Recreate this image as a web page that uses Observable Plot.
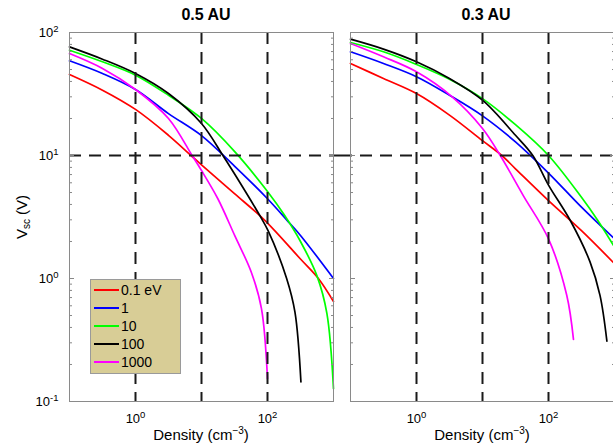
<!DOCTYPE html>
<html>
<head>
<meta charset="utf-8">
<script src="https://cdn.jsdelivr.net/npm/d3@7"></script>
<script src="https://cdn.jsdelivr.net/npm/@observablehq/plot@0.6"></script>
<style>
  html, body { margin: 0; padding: 0; background: #fff; overflow: hidden; }
  #wrap { position: relative; width: 613px; height: 447px; overflow: hidden; background: #fff;
          font-family: "Liberation Sans", Arial, Helvetica, sans-serif; color: #000; }
  .abs { position: absolute; white-space: nowrap; }
  .title { font-weight: bold; font-size: 16px; line-height: 16px; transform: translateX(-50%); }
  .xlab { font-size: 15px; line-height: 15px; transform: translateX(-50%); }
  .xlab sup { font-size: 10px; vertical-align: 6px; line-height: 0; }
  .ylab { font-size: 15px; line-height: 15px; transform: translate(-50%, -50%) rotate(-90deg); }
  .ylab sub { font-size: 10px; vertical-align: -3px; line-height: 0; }
  #legend { left: 90px; top: 279px; width: 89px; height: 93px; background: #d8cd96; border: 1px solid #9a9a9a; }
  .lrow { position: absolute; left: 3px; height: 18px; font-size: 14px; line-height: 18px; }
  .lrow .sw { position: absolute; left: 0; top: 8px; width: 25px; height: 2px; }
  .lrow .lt { position: absolute; left: 27px; top: 0; }
</style>
</head>
<body>
<div id="wrap"></div>
<script>
// ---------- data ----------
const energies = ["0.1 eV", "1", "10", "100", "1000"];
const colors = ["#ff0000", "#0000ff", "#00ff00", "#000000", "#ff00ff"];
const panels = ["0.5 AU", "0.3 AU"];
const gridDensity = [1, 10, 100];
const gridVoltage = [10];
const yTicks = [0.1, 1, 10, 100];
const xTicks = [1, 100];

// 0.5 AU : [density (cm^-3), Vsc (V)]
const au05_e0p1 = [[0.1,45.6],[0.316,34.0],[1,23.7],[3.16,14.6],[6.95,10.0],[10,8.4],[31.6,4.9],[91,2.97],[316,1.44],[590,1.0],[1000,0.65]];
const au05_e1 = [[0.1,58.9],[0.316,46.4],[1,34.4],[3.16,21.9],[10,14.5],[31.6,8.2],[100,4.45],[195,3.0],[316,2.24],[1000,1.0]];
const au05_e10 = [[0.1,71.8],[0.316,57.8],[1,45],[3.16,30.9],[10,20],[31.6,10.8],[100,5.1],[178,3.31],[316,2.0],[562,1.05],[794,0.52],[1000,0.127]];
const au05_e100 = [[0.1,76.4],[0.316,60.7],[1,46.4],[3.16,31.9],[10,18.2],[21.1,10],[31.6,7.1],[76.4,3.25],[102,2.45],[195,1.0],[261,0.53],[321,0.144]];
const au05_e1000 = [[0.1,67.4],[0.316,51],[1,34.4],[3.16,20],[7.2,10],[10,7.55],[17.7,4.45],[31.8,2.24],[57,1.12],[81,0.57],[100,0.153]];

// 0.3 AU
const au03_e0p1 = [[0.1,56],[0.316,42.3],[1,31.9],[3.16,21.3],[10,13.2],[19.6,10],[31.6,7.8],[100,4.3],[316,2.45],[1000,1.32]];
const au03_e1 = [[0.1,69.7],[0.316,56],[1,43.7],[3.16,30.9],[10,21],[31.6,12.9],[100,7.2],[316,3.8],[1000,2.1]];
const au03_e10 = [[0.1,83],[0.316,69.7],[1,55],[3.16,41.7],[10,29],[31.6,17.8],[100,10],[316,4.57],[562,2.95],[1000,1.8]];
const au03_e100 = [[0.1,88.3],[0.316,73.3],[1,57.8],[3.16,42.3],[10,28.2],[31.6,14.6],[57.8,10],[100,5.75],[214,2.96],[427,1.36],[603,0.73],[767,0.31]];
const au03_e1000 = [[0.1,81.3],[0.316,63.4],[1,47.9],[3.47,30],[10,16.6],[18.6,10],[41.7,4.7],[100,2.1],[189,0.73],[239,0.32]];

// ---------- table ----------
const rows = [];
function add(panel, energy, pts) { for (const [n, v] of pts) rows.push({panel, energy, n, v}); }
[au05_e0p1, au05_e1, au05_e10, au05_e100, au05_e1000].forEach((s, i) => add(panels[0], energies[i], s));
[au03_e0p1, au03_e1, au03_e10, au03_e100, au03_e1000].forEach((s, i) => add(panels[1], energies[i], s));

// minor log ticks (axis decoration)
const minorY = [];
for (const d of [0.1, 1, 10]) for (let k = 2; k <= 9; k++) minorY.push(d * k);

const supFmt = d => "10^" + Math.round(Math.log10(d));
const blank = () => "";

function makePanel(panel, o) {
  const data = rows.filter(r => r.panel === panel);
  const marks = [
    Plot.line(data, {x: "n", y: "v", z: "energy", stroke: "energy", strokeWidth: 1.7, curve: "catmull-rom"}),
    Plot.ruleX(gridDensity, {stroke: "#1a1a1a", strokeWidth: 2, strokeDasharray: "12,8"}),
    Plot.ruleY(gridVoltage, {stroke: "#1a1a1a", strokeWidth: 2, strokeDasharray: "12,8", insetLeft: o.extL, insetRight: o.extR}),
    Plot.axisY(minorY, {anchor: "left", tickSize: -3, tickFormat: blank, stroke: "#888", label: null}),
    Plot.axisY(minorY, {anchor: "right", tickSize: -3, tickFormat: blank, stroke: "#888", label: null}),
    Plot.axisY(yTicks, {anchor: "left", tickSize: -5, tickFormat: blank, stroke: "#888", label: null}),
    Plot.axisY(yTicks, {anchor: "right", tickSize: -5, tickFormat: blank, stroke: "#888", label: null}),
    Plot.axisX(xTicks, {anchor: "bottom", tickSize: 0, tickPadding: 12, tickFormat: supFmt, fontSize: 13, label: null}),
    Plot.frame({stroke: "#8a8a8a"})
  ];
  if (o.yLabels) marks.push(Plot.axisY(yTicks, {anchor: "left", tickSize: 0, tickPadding: 11, tickFormat: supFmt, fontSize: 13, label: null}));
  const svg = Plot.plot({
    width: o.width, height: 447,
    marginLeft: o.ml, marginRight: o.mr, marginTop: 32, marginBottom: 46,
    style: {fontFamily: "Liberation Sans, Arial, Helvetica, sans-serif", fontSize: "13px", background: "transparent", color: "#000", overflow: "visible"},
    x: {type: "log", domain: [0.1, 1000], label: null},
    y: {type: "log", domain: [0.1, 100], label: null},
    color: {domain: energies, range: colors},
    marks
  });
  // superscript exponents in tick labels
  const ns = "http://www.w3.org/2000/svg";
  svg.querySelectorAll("text").forEach(t => {
    const m = (t.textContent || "").match(/^(.*)\^(.*)$/);
    if (!m) return;
    while (t.firstChild) t.removeChild(t.firstChild);
    const a = document.createElementNS(ns, "tspan"); a.textContent = m[1];
    const b = document.createElementNS(ns, "tspan");
    b.setAttribute("dy", "-0.5em"); b.setAttribute("font-size", "9.5"); b.textContent = m[2];
    t.append(a, b);
  });
  svg.style.position = "absolute";
  svg.style.left = o.left + "px";
  svg.style.top = "0px";
  return svg;
}

const wrap = document.getElementById("wrap");
wrap.appendChild(makePanel(panels[0], {left: 0, width: 340, ml: 69, mr: 7, yLabels: true, extL: 0, extR: -7}));
wrap.appendChild(makePanel(panels[1], {left: 340, width: 275, ml: 10, mr: 1, yLabels: false, extL: -10, extR: 0}));

function div(cls, html, left, top) {
  const d = document.createElement("div");
  d.className = "abs " + cls; d.innerHTML = html;
  d.style.left = left + "px"; d.style.top = top + "px";
  wrap.appendChild(d); return d;
}
div("title", panels[0], 206, 7);
div("title", panels[1], 486, 7);
div("xlab", "Density (cm<sup>&minus;3</sup>)", 201, 427);
div("xlab", "Density (cm<sup>&minus;3</sup>)", 482, 427);
div("ylab", "V<sub>sc</sub> (V)", 21, 217);

// legend
const lg = div("", "", 90, 279); lg.id = "legend";
energies.forEach((e, i) => {
  const r = document.createElement("div");
  r.className = "lrow"; r.style.top = (1 + i * 17.9) + "px";
  r.innerHTML = `<div class="sw" style="background:${colors[i]}"></div><div class="lt">${e}</div>`;
  lg.appendChild(r);
});
</script>
</body>
</html>
